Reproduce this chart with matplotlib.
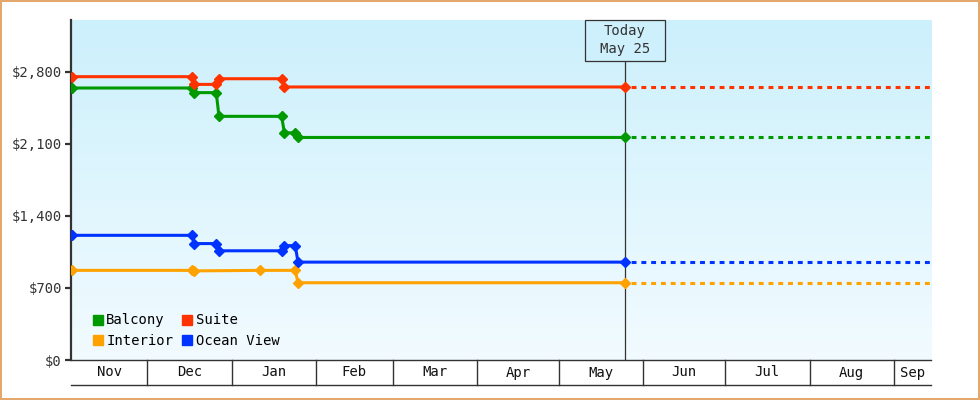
import datetime as dt

import matplotlib
matplotlib.use("Agg")
import matplotlib.dates as mdates
import matplotlib.pyplot as plt
import numpy as np
from matplotlib.colors import LinearSegmentedColormap
from matplotlib.lines import Line2D
from matplotlib.patches import Rectangle
from matplotlib.ticker import FuncFormatter

# price history per cabin type
balcony_dates = ["2024-11-03", "2024-12-17", "2024-12-18", "2024-12-26", "2024-12-27",
                 "2025-01-19", "2025-01-20", "2025-01-24", "2025-01-25", "2025-05-25"]
balcony_prices = [2640, 2640, 2595, 2595, 2365, 2365, 2205, 2205, 2160, 2160]

suite_dates = ["2024-11-03", "2024-12-17", "2024-12-18", "2024-12-26", "2024-12-27",
               "2025-01-19", "2025-01-20", "2025-05-25"]
suite_prices = [2750, 2750, 2675, 2675, 2730, 2730, 2650, 2650]

interior_dates = ["2024-11-03", "2024-12-17", "2024-12-18", "2025-01-11", "2025-01-24",
                  "2025-01-25", "2025-05-25"]
interior_prices = [870, 870, 865, 870, 870, 750, 750]

ocean_dates = ["2024-11-03", "2024-12-17", "2024-12-18", "2024-12-26", "2024-12-27",
               "2025-01-19", "2025-01-20", "2025-01-24", "2025-01-25", "2025-05-25"]
ocean_prices = [1210, 1210, 1130, 1130, 1060, 1060, 1110, 1110, 950, 950]

today = "2025-05-25"
chart_end = "2025-09-14 14:00"
y_ticks = [0, 700, 1400, 2100, 2800]

series = [
    ("Balcony", balcony_dates, balcony_prices, "#009900"),
    ("Suite", suite_dates, suite_prices, "#ff3300"),
    ("Interior", interior_dates, interior_prices, "#ffa200"),
    ("Ocean View", ocean_dates, ocean_prices, "#0033ff"),
]

plt.rcParams["font.family"] = ["DejaVu Sans Mono"]
plt.rcParams["font.size"] = 10
ink = "#333333"

fig = plt.figure(figsize=(9.8, 4), dpi=100)
fig.patch.set_edgecolor("#e3a86c")
fig.patch.set_linewidth(1.5)
ax = fig.add_axes([71 / 980, 40 / 400, 860 / 980, 340 / 400])

# soft blue gradient behind the plot
grad = LinearSegmentedColormap.from_list("bg", ["#ccf0fc", "#f2fbff"])
ax.imshow(np.linspace(0, 1, 256).reshape(-1, 1), cmap=grad, aspect="auto",
          extent=[0, 1, 0, 1], transform=ax.transAxes, zorder=0)

to_num = lambda s: mdates.date2num(np.datetime64(s))
t_today = to_num(today)
t_end = to_num(chart_end)

for name, dates, prices, color in series:
    x = [to_num(s) + 0.3 for s in dates]
    ax.plot(x, prices, color=color, lw=2.2, marker="D", ms=4.6, zorder=3)
    ax.plot([x[-1], t_end], [prices[-1], prices[-1]], color=color, lw=2.2,
            linestyle=(1.2, (1.6, 1.6)), zorder=3)

t_start = to_num(balcony_dates[0])
ax.set_xlim(t_start, t_end)
ax.set_ylim(0, 3300)

for side in ("top", "right", "bottom"):
    ax.spines[side].set_visible(False)
ax.spines["left"].set_color(ink)
ax.spines["left"].set_linewidth(1.6)
ax.set_yticks(y_ticks)
ax.yaxis.set_major_formatter(FuncFormatter(lambda v, p: f"${v:,.0f}"))
ax.tick_params(axis="y", direction="out", length=4.5, width=1.6, color=ink,
               labelcolor=ink, pad=2)
ax.set_xticks([])

# month band under the plot
xt = ax.get_xaxis_transform()
band = -25 / 340
ax.plot([t_start, t_end], [0, 0], color=ink, lw=1, transform=xt, clip_on=False)
ax.plot([t_start, t_end], [band, band], color=ink, lw=1, transform=xt, clip_on=False)
months = [dt.date(2024, 11, 1)]
while months[-1] < dt.date(2025, 10, 1):
    m = months[-1]
    months.append(dt.date(m.year + m.month // 12, m.month % 12 + 1, 1))
for m0, m1 in zip(months[:-1], months[1:]):
    a = max(mdates.date2num(m0), t_start)
    b = min(mdates.date2num(m1), t_end)
    if a >= b:
        continue
    if a > t_start:
        ax.plot([a, a], [0, band], color=ink, lw=1, transform=xt, clip_on=False)
    ax.text((a + b) / 2, band / 2, m0.strftime("%b"), transform=xt, ha="center",
            va="center", color="#111111")

# "today" marker
t_mark = t_today + 0.3
box_bottom = 1 - 40.5 / 340
ax.plot([t_mark, t_mark], [0, box_bottom], color=ink, lw=0.9, transform=xt, zorder=2)
px_day = 860 / (t_end - t_start)
half = 40 / px_day
ax.add_patch(Rectangle((t_mark - half, box_bottom), 2 * half, 1 - box_bottom,
                       transform=xt, facecolor="#cdf0fc", edgecolor=ink, lw=0.9,
                       zorder=4, clip_on=False))
ax.text(t_mark, 1 - 20 / 340, "Today\nMay 25", transform=xt, ha="center", va="center",
        color=ink, linespacing=1.35, zorder=5)

# legend fills column by column: Balcony/Interior left, Suite/Ocean View right
order = [0, 2, 1, 3]
handles = [Line2D([], [], marker="s", ls="none", ms=7.5, color=series[i][3]) for i in order]
ax.legend(handles, [series[i][0] for i in order], ncol=2, loc="lower left",
          bbox_to_anchor=(0.0185, 0.018), frameon=False, handlelength=0.8,
          handletextpad=0.2, columnspacing=0.6, labelspacing=0.5, borderaxespad=0)

fig.savefig("out.png", dpi=100)
